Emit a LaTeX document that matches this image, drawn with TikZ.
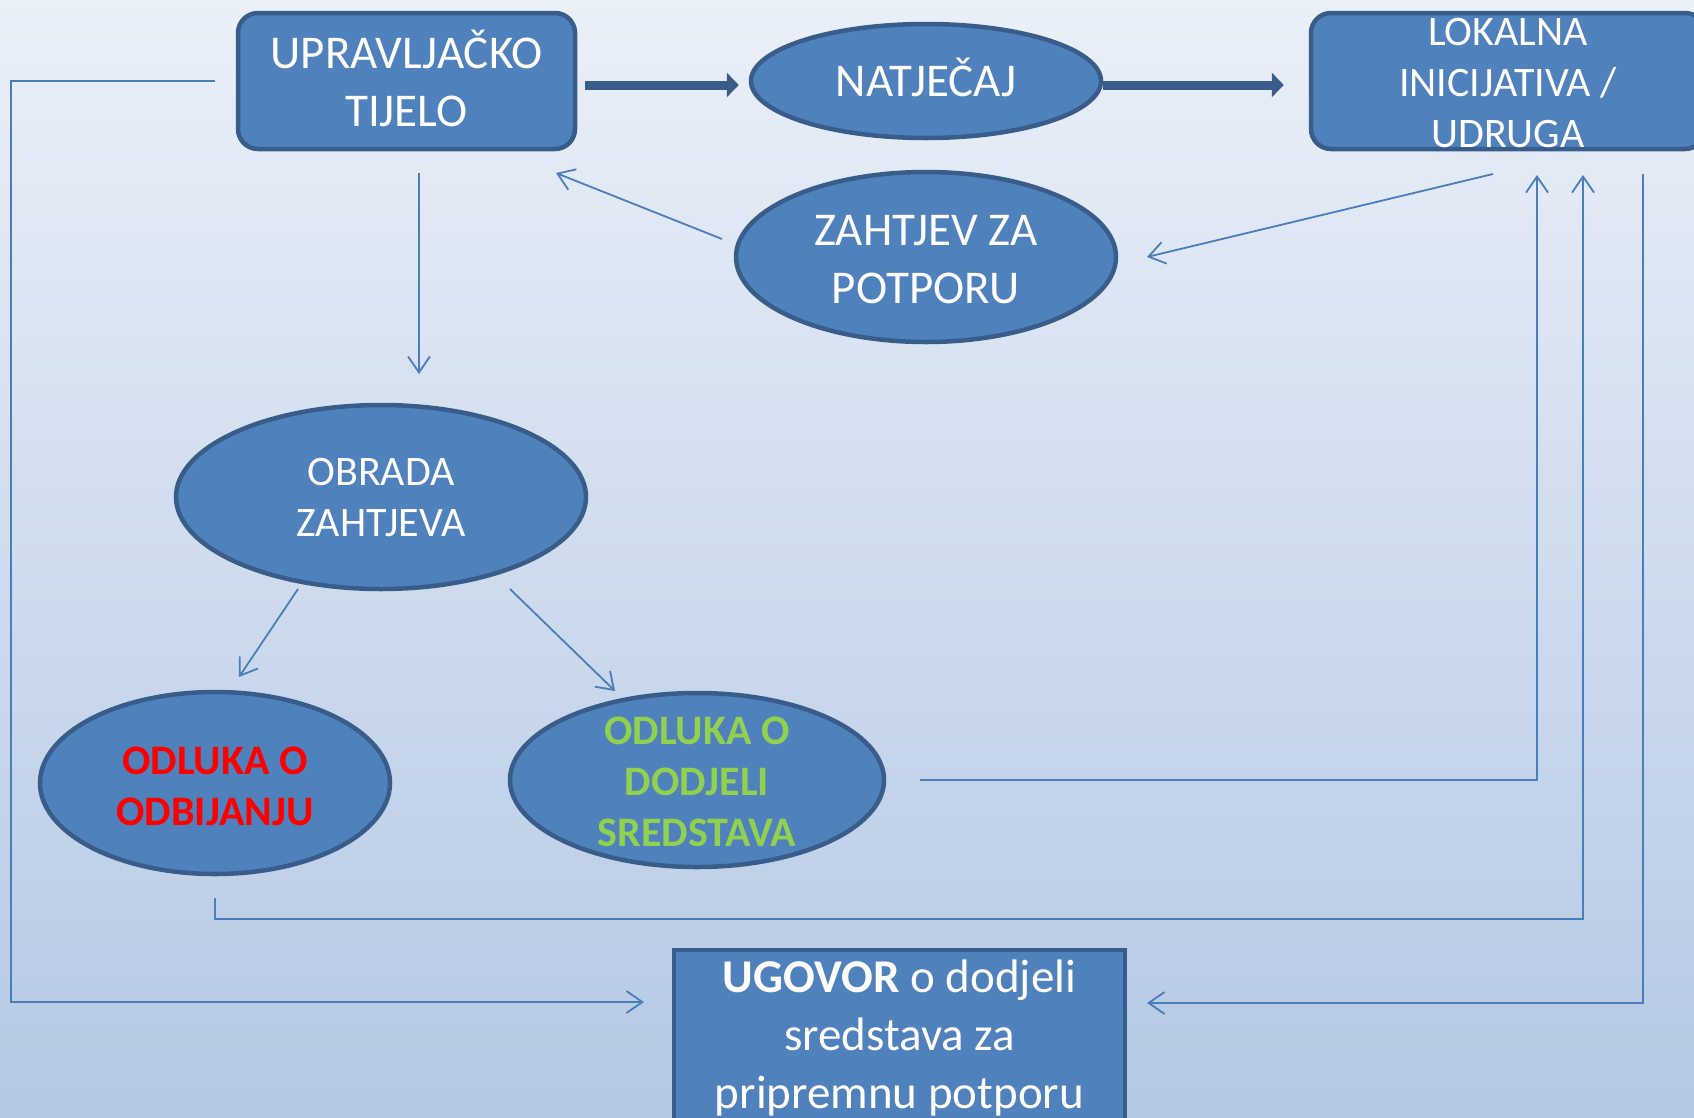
\documentclass[tikz,border=0pt]{standalone}
\usepackage{fontspec}
\setmainfont{Carlito}
\usetikzlibrary{shapes.geometric,arrows.meta}
\definecolor{bgtop}{RGB}{234,240,248}
\definecolor{bgbot}{RGB}{180,200,228}
\definecolor{nfill}{RGB}{79,129,189}
\definecolor{nedge}{RGB}{56,93,138}
\definecolor{lnc}{RGB}{74,126,187}
\definecolor{grn}{RGB}{146,208,80}
\begin{document}
\begin{tikzpicture}[x=1pt,y=-1pt,
  box/.style={draw=nedge, line width=4.5pt, fill=nfill, rounded corners=20pt, inner sep=0pt},
  oval/.style={ellipse, draw=nedge, line width=4.5pt, fill=nfill, inner sep=0pt},
  lbl/.style={text=white, align=center, inner sep=0pt, font=\fontsize{47}{58}\selectfont},
  sm/.style={font=\fontsize{42}{51}\selectfont},
  smb/.style={font=\fontsize{42}{51}\selectfont\bfseries},
  conn/.style={draw=lnc, line width=1.8pt},
  arr/.style={conn, -{Straight Barb[length=16pt,width=22pt]}},
  big/.style={draw=nedge, line width=9pt, -{Triangle[length=12pt,width=24pt]}}]
\clip (0,0) rectangle (1694,1117);
\useasboundingbox (0,0) rectangle (1694,1117);
\shade[top color=bgtop,bottom color=bgbot] (0,0) rectangle (1694,1117);

% shapes
\node[box, minimum width=337pt, minimum height=136pt] (ut) at (406.5,81) {};
\node[lbl] (utt) at ([yshift=3pt]ut.center) {UPRAVLJAČKO\\TIJELO};
\node[oval, minimum width=350pt, minimum height=114pt] (nat) at (926,81) {};
\node[lbl] (natt) at ([yshift=4pt]nat.center) {NATJEČAJ};
\node[box, minimum width=394pt, minimum height=136pt] (lok) at (1508,81) {};
\node[lbl, sm] (lokt) at ([yshift=-2pt]lok.center) {LOKALNA\\INICIJATIVA /\\UDRUGA};
\node[oval, minimum width=380pt, minimum height=170pt] (zah) at (926,257) {};
\node[lbl] (zaht) at ([yshift=-3pt]zah.center) {ZAHTJEV ZA\\POTPORU};
\node[oval, minimum width=410pt, minimum height=184pt] (obr) at (381,497) {};
\node[lbl, sm] (obrt) at ([yshift=-1pt]obr.center) {OBRADA\\ZAHTJEVA};
\node[oval, minimum width=350pt, minimum height=182pt] (odb) at (215,783) {};
\node[lbl, smb, text=red] (odbt) at ([yshift=-3pt]odb.center) {ODLUKA O\\ODBIJANJU};
\node[oval, minimum width=374pt, minimum height=174pt] (dod) at (697,780) {};
\node[lbl, smb, text=grn] (dodt) at ([yshift=-2pt]dod.center) {ODLUKA O\\DODJELI\\SREDSTAVA};
\node[box, rounded corners=0pt, minimum width=451pt, minimum height=170pt] (ugo) at (899.5,1035) {};
\node[lbl] (ugot) at ([yshift=-3pt]ugo.center) {\textbf{UGOVOR} o dodjeli\\sredstava za\\pripremnu potporu};

% free ends
\coordinate (zA) at (722,239);
\coordinate (uA) at (556,173);
\coordinate (lA) at (1493,174);
\coordinate (zB) at (1147,257);
\coordinate (uB) at (419,173);
\coordinate (oB) at (419,374);
\coordinate (oC) at (298,589);
\coordinate (dC) at (239,677);
\coordinate (oD) at (510,589);
\coordinate (dD) at (615,691);
\coordinate (dE) at (920,780);
\coordinate (lE) at (1537,175);
\coordinate (dF) at (215,898);
\coordinate (lF) at (1583,175);
\coordinate (lG) at (1643,174);
\coordinate (gG) at (1147,1003);
\coordinate (uH) at (215,81);
\coordinate (gH) at (644,1002);

% connectors
\draw[big] ([shift={(8pt,-4pt)}]ut.east) -- ([shift={(-10pt,-4pt)}]nat.west);
\draw[big] ([yshift=-4pt]nat.east) -- ([shift={(-25pt,-4pt)}]lok.west);
\draw[arr] (zA) -- (uA);
\draw[arr] (lA) -- (zB);
\draw[arr] (uB) -- (oB);
\draw[arr] (oC) -- (dC);
\draw[arr] (oD) -- (dD);
\draw[arr] (dE) -- (dE -| lE) -- (lE);
\draw[arr] (dF) -- (215,919) -- (1583,919) -- (lF);
\draw[arr] (lG) -- (lG |- gG) -- (gG);
\draw[arr] (uH) -- (11,81) -- (11,1002) -- (gH);
\end{tikzpicture}
\end{document}
